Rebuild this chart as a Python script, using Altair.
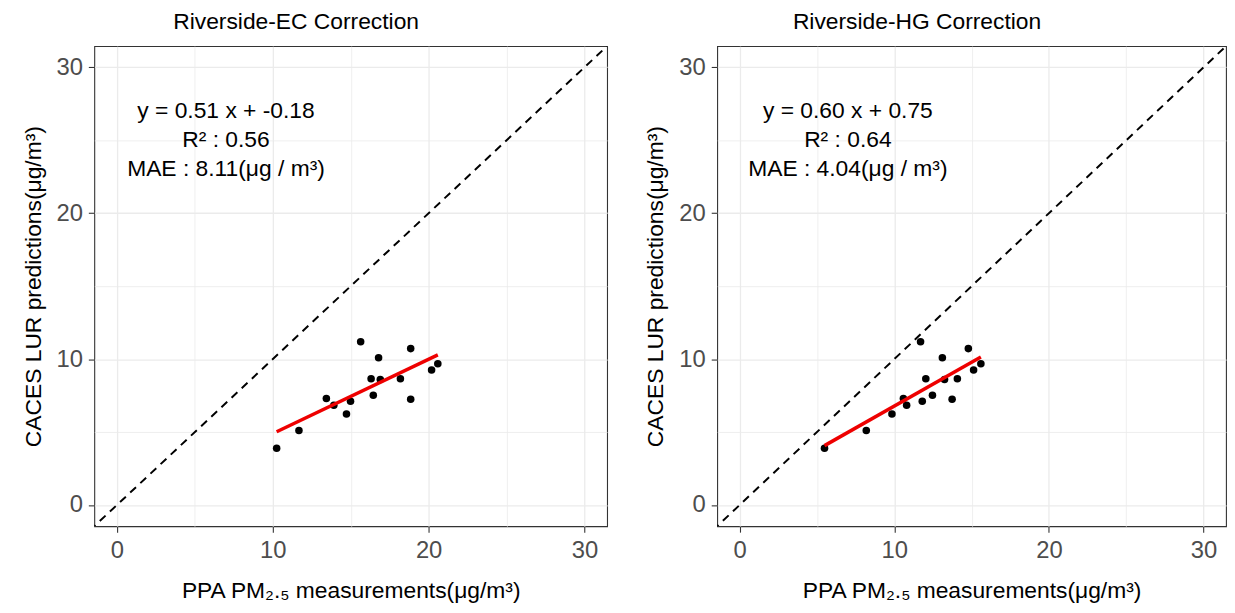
import altair as alt
import pandas as pd

# ---- data ----
lur_pred = [3.89, 5.11, 7.30, 6.84, 6.24, 7.11, 11.19, 8.65, 7.52, 10.09, 8.60, 8.65, 10.72, 7.25, 9.26, 9.68]
ppa_ec = [10.25, 11.68, 13.44, 13.92, 14.73, 14.99, 15.64, 16.31, 16.45, 16.79, 16.90, 18.19, 18.85, 18.85, 20.19, 20.59]
ppa_hg = [5.49, 8.19, 10.59, 10.80, 9.85, 11.81, 11.70, 12.04, 12.47, 13.11, 13.25, 14.08, 14.79, 13.74, 15.13, 15.60]

panel_titles = ["Riverside-EC Correction", "Riverside-HG Correction"]
ann_ec = ["y = 0.51 x + -0.18", "R² : 0.56", "MAE : 8.11(μg / m³)"]
ann_hg = ["y = 0.60 x + 0.75", "R² : 0.64", "MAE : 4.04(μg / m³)"]
ann_x = [7, 7, 7]
ann_y = [27, 25, 23]
identity_vals = [-5, 40]
tick_values = [0, 5, 10, 15, 20, 25, 30]

x_title = "PPA PM₂.₅ measurements(μg/m³)"
y_title = "CACES LUR predictions(μg/m³)"

FONT = "Liberation Sans"
DOMAIN = [-1.45, 31.45]

major = "datum.value % 10 === 0"


def make_axis(title, orient):
    return alt.Axis(
        title=title,
        values=tick_values,
        labelExpr="datum.value % 10 === 0 ? datum.label : ''",
        grid=True,
        gridColor="#EBEBEB",
        gridWidth={"condition": {"test": major, "value": 1.3}, "value": 0.8},
        tickOpacity={"condition": {"test": major, "value": 1}, "value": 0},
        tickColor="#333333",
        tickSize=6,
        tickWidth=1.1,
        domain=False,
        labelFont=FONT,
        labelFontSize=24,
        labelColor="#4D4D4D",
        labelPadding=7 if orient == "x" else 6,
        labelOverlap=False,
        titleFont=FONT,
        titleFontSize=23,
        titleFontWeight="normal",
        titleColor="black",
        titlePadding=17 if orient == "x" else 11,
    )


def panel(xs, ann, title, width):
    df = pd.DataFrame({"x": xs, "y": lur_pred})
    idf = pd.DataFrame({"x": identity_vals, "y": identity_vals})
    adf = pd.DataFrame({"x": ann_x, "y": ann_y, "t": ann})
    xsc = alt.Scale(domain=DOMAIN, nice=False, zero=False)
    ysc = alt.Scale(domain=DOMAIN, nice=False, zero=False)
    xenc = alt.X("x:Q", scale=xsc, axis=make_axis(x_title, "x"))
    yenc = alt.Y("y:Q", scale=ysc, axis=make_axis(y_title, "y"))

    ident = alt.Chart(idf).mark_line(
        clip=True, color="black", strokeWidth=2, strokeDash=[8, 6]
    ).encode(x=xenc, y=yenc)
    pts = alt.Chart(df).mark_circle(size=58, color="black", opacity=1).encode(x=xenc, y=yenc)
    reg = alt.Chart(df).transform_regression("x", "y").mark_line(
        color="#EE0000", strokeWidth=3.5
    ).encode(x=xenc, y=yenc)
    txt = alt.Chart(adf).mark_text(
        font=FONT, fontSize=23, color="black", align="center", baseline="middle"
    ).encode(x=xenc, y=yenc, text="t:N")

    return alt.layer(ident, pts, reg, txt).properties(
        width=width,
        height=484,
        title=alt.TitleParams(
            title, font=FONT, fontSize=23, fontWeight="normal", color="black",
            anchor="middle", frame="group", offset=12, dx=-55,
        ),
    )


left = panel(ppa_ec, ann_ec, panel_titles[0], 517)
right = panel(ppa_hg, ann_hg, panel_titles[1], 513)

chart = alt.hconcat(left, right, spacing=36).properties(
    padding={"left": 13, "top": 0, "right": 0, "bottom": 0}
).configure_view(stroke="#333333", strokeWidth=1.1)

chart.save("out.html", embed_options={"renderer": "svg", "actions": False})
